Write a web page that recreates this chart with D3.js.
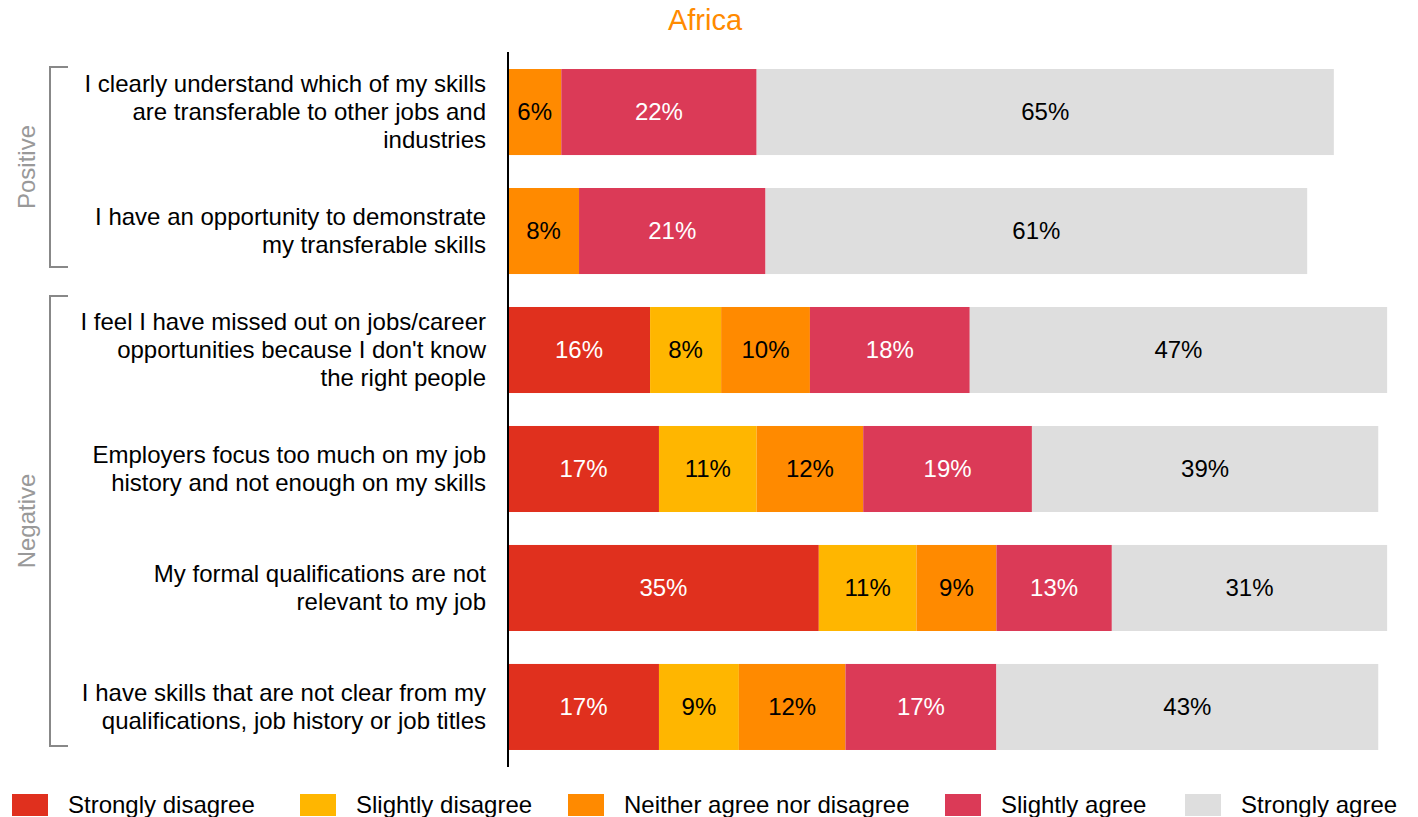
<!DOCTYPE html>
<html>
<head>
<meta charset="utf-8">
<script src="https://cdn.jsdelivr.net/npm/d3@7"></script>
<style>
  html, body { margin: 0; padding: 0; background: #fff; }
  svg { display: block; font-family: "Liberation Sans", Arial, Helvetica, sans-serif; }
</style>
</head>
<body>
<svg id="chart" width="1418" height="817"></svg>
<script>
// ---- data ----
const title = "Africa";
const categories = [
  "I clearly understand which of my skills\nare transferable to other jobs and\nindustries",
  "I have an opportunity to demonstrate\nmy transferable skills",
  "I feel I have missed out on jobs/career\nopportunities because I don't know\nthe right people",
  "Employers focus too much on my job\nhistory and not enough on my skills",
  "My formal qualifications are not\nrelevant to my job",
  "I have skills that are not clear from my\nqualifications, job history or job titles"
];
const seriesNames = ["Strongly disagree", "Slightly disagree", "Neither agree nor disagree", "Slightly agree", "Strongly agree"];
const stronglyDisagree = [0, 0, 16, 17, 35, 17];
const slightlyDisagree = [0, 0, 8, 11, 11, 9];
const neither          = [6, 8, 10, 12, 9, 12];
const slightlyAgree    = [22, 21, 18, 19, 13, 17];
const stronglyAgree    = [65, 61, 47, 39, 31, 43];
const groupNames = ["Positive", "Negative"];
const groupFirst = [0, 2];
const groupLast = [1, 5];

// ---- styles / layout ----
const colors = ["#E0301E", "#FFB600", "#FF8A00", "#DB3A57", "#DEDEDE"];
const labelColors = ["#fff", "#000", "#000", "#fff", "#000"];
const FS = 24;
const bracketTopOffset = [-2, -11];
const bracketBottomOffset = [-7, -4];

const svg = d3.select("#chart");
const x = d3.scaleLinear().domain([0, 100]).range([508, 1396]);
const y = d3.scaleBand().domain(d3.range(categories.length)).range([52, 767])
  .paddingInner(0.277).paddingOuter(0.143);

const seriesValues = [stronglyDisagree, slightlyDisagree, neither, slightlyAgree, stronglyAgree];
const rows = categories.map((c, i) => {
  const r = { idx: i };
  seriesNames.forEach((s, k) => r[s] = seriesValues[k][i]);
  return r;
});
const stacked = d3.stack().keys(seriesNames)(rows);

// title
svg.append("text").attr("x", 705).attr("y", 30).attr("text-anchor", "middle")
  .attr("font-size", 29).attr("fill", "#FF8A00").text(title);

// bars
const layers = svg.append("g").selectAll("g").data(stacked).join("g")
  .attr("fill", (d, k) => colors[k]);
layers.selectAll("rect").data(d => d.filter(p => p[1] - p[0] > 0)).join("rect")
  .attr("x", p => x(p[0]))
  .attr("width", p => x(p[1]) - x(p[0]))
  .attr("y", p => y(p.data.idx))
  .attr("height", y.bandwidth());

// value labels
stacked.forEach((layer, k) => {
  svg.append("g").selectAll("text").data(layer.filter(p => p[1] - p[0] > 0)).join("text")
    .attr("x", p => (x(p[0]) + x(p[1])) / 2)
    .attr("y", p => y(p.data.idx) + y.bandwidth() / 2)
    .attr("dy", "0.35em")
    .attr("text-anchor", "middle")
    .attr("font-size", FS)
    .attr("fill", labelColors[k])
    .text(p => (p[1] - p[0]) + "%");
});

// axis line
svg.append("line").attr("x1", 508).attr("x2", 508).attr("y1", 52).attr("y2", 767)
  .attr("stroke", "#000").attr("stroke-width", 2);

// category labels
const lineH = 28;
categories.forEach((c, i) => {
  const lines = c.split("\n");
  const cy = y(i) + y.bandwidth() / 2;
  const t = svg.append("text").attr("text-anchor", "end").attr("font-size", FS).attr("fill", "#000");
  lines.forEach((ln, j) => {
    t.append("tspan").attr("x", 486)
      .attr("y", cy + (j - (lines.length - 1) / 2) * lineH)
      .attr("dy", "0.35em").text(ln);
  });
});

// group brackets
groupNames.forEach((name, g) => {
  const top = y(groupFirst[g]) + bracketTopOffset[g];
  const bot = y(groupLast[g]) + y.bandwidth() + bracketBottomOffset[g];
  svg.append("path")
    .attr("d", `M68,${top}H50V${bot}H68`)
    .attr("fill", "none").attr("stroke", "#888").attr("stroke-width", 2);
  const mid = (top + bot) / 2;
  svg.append("text").attr("transform", `translate(35,${mid}) rotate(-90)`)
    .attr("text-anchor", "middle").attr("font-size", FS).attr("fill", "#999").text(name);
});

// legend
const legendX = [12, 300, 568, 945, 1185];
const lg = svg.append("g").selectAll("g").data(seriesNames).join("g")
  .attr("transform", (d, k) => `translate(${legendX[k]},794)`);
lg.append("rect").attr("width", 36).attr("height", 22).attr("fill", (d, k) => colors[k]);
lg.append("text").attr("x", 56).attr("y", 11).attr("dy", "0.35em")
  .attr("font-size", FS).attr("fill", "#000").text(d => d);
</script>
</body>
</html>
